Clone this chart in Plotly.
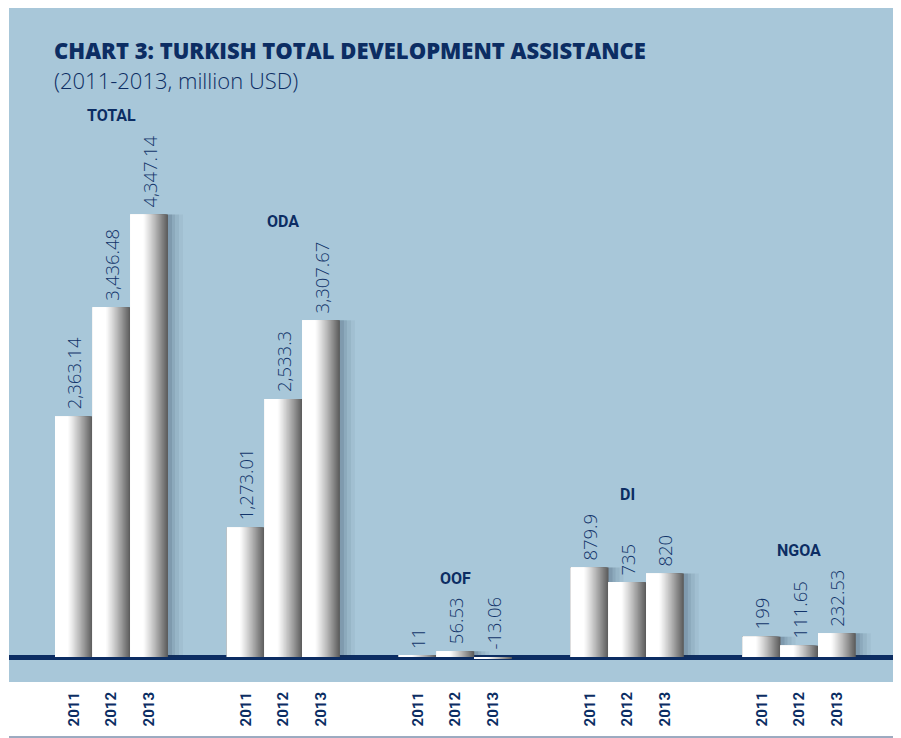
import plotly.graph_objects as go

# ---------------- data ----------------
categories = ["TOTAL", "ODA", "OOF", "DI", "NGOA"]
years = ["2011", "2012", "2013"]
values_2011 = [2363.14, 1273.01, 11, 879.9, 199]
values_2012 = [3436.48, 2533.3, 56.53, 735, 111.65]
values_2013 = [4347.14, 3307.67, -13.06, 820, 232.53]

series = [values_2011, values_2012, values_2013]

# ---------------- styling ----------------
OFF = 8                      # page body margin
W, H = 901 - OFF, 738 - OFF
ML, MR = 9 - OFF, 3
MT = 100 - OFF
MB = 738 - 682
PLOT_W = W - ML - MR
PLOT_H = H - MT - MB
NAVY = "#0c2d63"
LABEL_NAVY = "#12346a"
BG_BLUE = "#a8c7d9"
BW = 0.219                     # bar width in category units
X_RANGE = [-0.596, 4.574]
PX_PER_UNIT = 0.1018
ZERO_PX = 657 - 100
Y_RANGE = [-(PLOT_H - ZERO_PX) / PX_PER_UNIT, ZERO_PX / PX_PER_UNIT]


def py(ref_y):
    """reference-page y (pixels) -> paper coordinate"""
    return (682 - ref_y) / PLOT_H


def px(ref_x):
    return (ref_x - 9) / PLOT_W


# flatten bars (positions computed from group / year index)
xs, ys, yrs = [], [], []
for g, cat in enumerate(categories):
    for j, yr in enumerate(years):
        xs.append(g + (j - 1) * BW)
        ys.append(series[j][g])
        yrs.append(yr)


def fmt(v):
    return f"{v:,}"


fig = go.Figure()

# soft shadow to the right of bars
xunit = (X_RANGE[1] - X_RANGE[0]) / PLOT_W
for shift, alpha in [(15, 0.05), (11, 0.07), (7, 0.09), (4, 0.12)]:
    fig.add_trace(go.Bar(
        x=xs, y=ys, width=BW, offset=-BW / 2 + shift * xunit,
        marker=dict(color=f"rgba(30,50,75,{alpha})", line=dict(width=0)),
        hoverinfo="skip", showlegend=False,
    ))

# horizontal gradient: white on the left -> dark grey on the right
N = 24
WHITE_FRAC = 0.35


def shade(t):
    lo, hi = 255, 92
    c = int(round(lo - (lo - hi) * t ** 1.15))
    return f"rgb({c},{c},{c})"


for k in range(N):
    frac = 1.0 - (1 - WHITE_FRAC) * k / N
    t = (frac - WHITE_FRAC) / (1 - WHITE_FRAC)
    fig.add_trace(go.Bar(
        x=xs, y=ys, width=BW * frac, offset=-BW / 2,
        marker=dict(color=shade(t), line=dict(width=0)),
        hoverinfo="skip", showlegend=False,
    ))
fig.add_trace(go.Bar(
    x=xs, y=ys, width=BW * WHITE_FRAC, offset=-BW / 2,
    marker=dict(color="white", line=dict(width=0)),
    hovertemplate="%{y}<extra></extra>", showlegend=False,
))

annotations = []
LABEL_FONT = dict(family="Open Sans", size=18.5, color=LABEL_NAVY, weight=300)


def text_len(s):
    n = 0
    for ch in s:
        n += 4.8 if ch in ",." else (6.2 if ch == "-" else 10.6)
    return n


for x, v in zip(xs, ys):
    annotations.append(dict(
        x=x, y=max(v, 0), xref="x", yref="y", text=fmt(v), textangle=-90,
        showarrow=False, xanchor="center", yanchor="bottom", yshift=5,
        font=LABEL_FONT,
    ))

# category labels above each group
for g, cat in enumerate(categories):
    vals = [series[j][g] for j in range(3)]
    top = max(max(vals), 0)
    longest = max(text_len(fmt(v)) + max(v, 0) * PX_PER_UNIT for v in vals) - top * PX_PER_UNIT
    annotations.append(dict(
        x=g, y=top, xref="x", yref="y", text=f"<b>{cat}</b>",
        showarrow=False, xanchor="center", yanchor="bottom",
        yshift=longest + 14,
        font=dict(family="Roboto", size=16, color=NAVY),
    ))

# title & subtitle
annotations.append(dict(
    x=px(52), y=py(50), xref="paper", yref="paper",
    text="CHART 3: TURKISH TOTAL DEVELOPMENT ASSISTANCE", showarrow=False,
    xanchor="left", yanchor="middle",
    font=dict(family="Open Sans", size=22, color=NAVY, weight=800),
))
annotations.append(dict(
    x=px(52), y=py(80), xref="paper", yref="paper",
    text="(2011-2013, million USD)", showarrow=False,
    xanchor="left", yanchor="middle",
    font=dict(family="Open Sans", size=22, color=NAVY, weight=300),
))

shapes = [
    dict(type="rect", xref="paper", yref="paper", x0=0, x1=1,
         y0=0, y1=py(5), fillcolor=BG_BLUE,
         line=dict(width=0), layer="below"),
    dict(type="line", xref="paper", yref="paper", x0=0, x1=1,
         y0=py(737), y1=py(737),
         line=dict(color="#3a5682", width=1)),
]

fig.update_layout(
    width=W, height=H, barmode="overlay",
    margin=dict(l=ML, r=MR, t=MT, b=MB, pad=0),
    paper_bgcolor="white", plot_bgcolor="rgba(0,0,0,0)",
    showlegend=False, annotations=annotations, shapes=shapes,
    xaxis=dict(range=X_RANGE, tickvals=xs, ticktext=[f"<b>{y}</b>" for y in yrs],
               tickangle=-90, showgrid=False, zeroline=False, showline=False,
               ticks="", ticklabelstandoff=6,
               tickfont=dict(family="Roboto", size=15, color=NAVY)),
    yaxis=dict(range=Y_RANGE, showgrid=False, showticklabels=False, ticks="",
               zeroline=True, zerolinecolor=NAVY, zerolinewidth=5, showline=False),
)

fig.write_html("out.html")
